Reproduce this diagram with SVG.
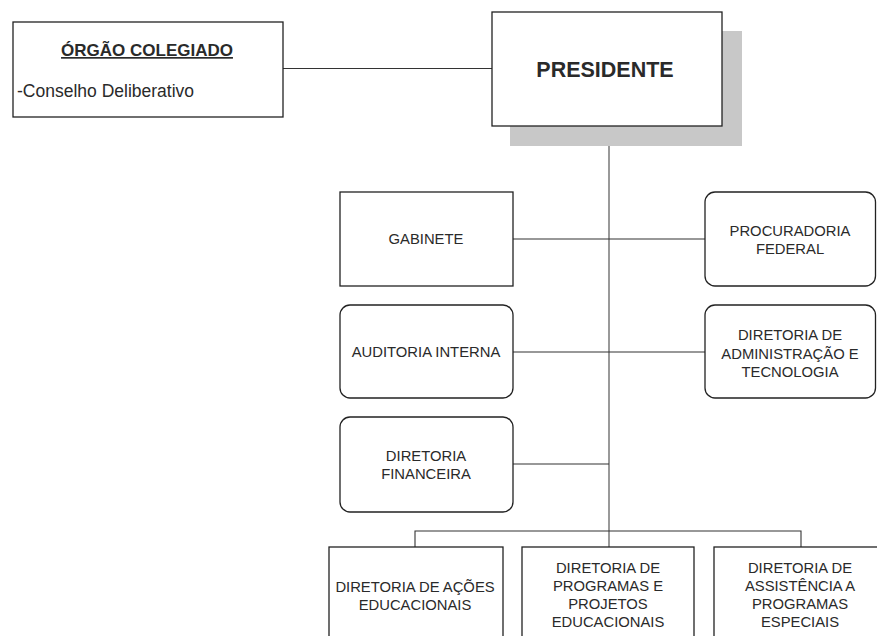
<svg xmlns="http://www.w3.org/2000/svg" width="877" height="636" viewBox="0 0 877 636">
<style>
.box{fill:#fff;stroke:#222;stroke-width:1.3}
.ln{stroke:#333;stroke-width:1.1;fill:none}
.vl{stroke:#6e6e6e;stroke-width:1.4;fill:none}
text{font-family:"Liberation Sans",Arial,sans-serif;fill:#2a2a2a}
.t{font-size:14.8px;text-anchor:middle}
</style>
<rect width="877" height="636" fill="#fff"/>
<g id="connectors">
<line class="ln" x1="283" y1="68.5" x2="492" y2="68.5"/>
<line class="vl" x1="609" y1="146" x2="609" y2="547"/>
<line class="ln" x1="513" y1="239" x2="705" y2="239"/>
<line class="ln" x1="513" y1="352" x2="705" y2="352"/>
<line class="ln" x1="513" y1="464" x2="609" y2="464"/>
<polyline class="ln" points="415,547 415,531 801,531 801,547"/>
</g>
<g id="orgao">
<rect class="box" x="13" y="22" width="270" height="95"/>
<text x="147" y="56" font-size="17" font-weight="bold" text-anchor="middle" text-decoration="underline">ÓRGÃO COLEGIADO</text>
<text x="17" y="97" font-size="17.5">-Conselho Deliberativo</text>
</g>
<g id="presidente">
<rect x="510" y="31" width="232" height="115" fill="#c8c8c8"/>
<rect class="box" x="492" y="12" width="230" height="114"/>
<text x="605" y="77" font-size="21.5" font-weight="bold" text-anchor="middle">PRESIDENTE</text>
</g>
<g id="gabinete">
<rect class="box" x="340" y="192" width="173" height="94"/>
<text class="t" x="426" y="244">GABINETE</text>
</g>
<g id="procuradoria">
<rect class="box" x="705" y="192" width="170.5" height="94" rx="10"/>
<text class="t" x="790" y="236">PROCURADORIA</text>
<text class="t" x="790" y="254">FEDERAL</text>
</g>
<g id="auditoria">
<rect class="box" x="340" y="305" width="173" height="93" rx="10"/>
<text class="t" x="426" y="357">AUDITORIA INTERNA</text>
</g>
<g id="dir-adm">
<rect class="box" x="705" y="305" width="170.5" height="93" rx="10"/>
<text class="t" x="790" y="340">DIRETORIA DE</text>
<text class="t" x="790" y="358.5">ADMINISTRAÇÃO E</text>
<text class="t" x="790" y="377">TECNOLOGIA</text>
</g>
<g id="dir-fin">
<rect class="box" x="340" y="417" width="173" height="95" rx="10"/>
<text class="t" x="426" y="461">DIRETORIA</text>
<text class="t" x="426" y="479">FINANCEIRA</text>
</g>
<g id="dir-acoes">
<rect class="box" x="329" y="547" width="174" height="100"/>
<text class="t" x="415" y="592">DIRETORIA DE AÇÕES</text>
<text class="t" x="415" y="610">EDUCACIONAIS</text>
</g>
<g id="dir-programas">
<rect class="box" x="522" y="547" width="172" height="100"/>
<text class="t" x="608" y="573">DIRETORIA DE</text>
<text class="t" x="608" y="591">PROGRAMAS E</text>
<text class="t" x="608" y="609">PROJETOS</text>
<text class="t" x="608" y="627">EDUCACIONAIS</text>
</g>
<g id="dir-assistencia">
<rect class="box" x="714" y="547" width="180" height="100"/>
<text class="t" x="800" y="573">DIRETORIA DE</text>
<text class="t" x="800" y="591">ASSISTÊNCIA A</text>
<text class="t" x="800" y="609">PROGRAMAS</text>
<text class="t" x="800" y="627">ESPECIAIS</text>
</g>
</svg>
